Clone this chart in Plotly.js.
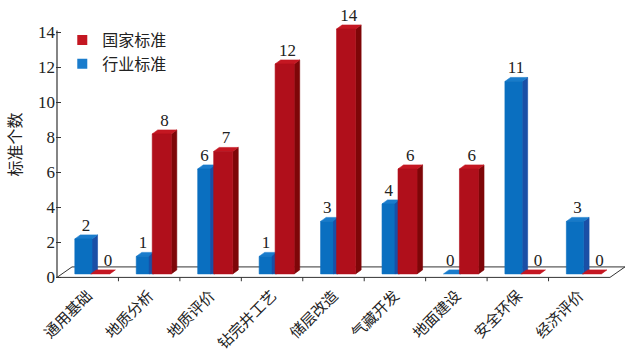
<!DOCTYPE html>
<html>
<head>
<meta charset="utf-8">
<script src="https://cdn.plot.ly/plotly-3.0.1.min.js"></script>
<style>html,body{margin:0;padding:0;background:#fff;}#chart{width:631px;height:360px;}</style>
</head>
<body>
<div id="chart"></div>
<script>
// ---- data ----
const categories = ['通用基础','地质分析','地质评价','钻完井工艺','储层改造','气藏开发','地面建设','安全环保','经济评价'];
const industryStd = [2, 1, 6, 1, 3, 4, 0, 11, 3];    // 行业标准 (blue)
const nationalStd = [0, 8, 7, 12, 14, 6, 6, 0, 0];   // 国家标准 (red)
const yTickVals = [0, 2, 4, 6, 8, 10, 12, 14];
const seriesNames = ['国家标准', '行业标准'];

// ---- style / pseudo-3D geometry (in axis units) ----
const BASE = 0.2, DX = 0.09, DY = 0.23;
const BLUE_OFF = [-0.21, 0.07], RED_OFF = [0.05, 0.36];
const COL = {
  blueFront: '#0a6fc0', blueTop: '#1a7ccc', blueSide: '#1a4fa6',
  redFront: '#b00f1b', redTop: '#c41722', redSide: '#7e0608'
};
const CJK = '"Noto Sans CJK SC", "Noto Sans", sans-serif';
const SERIF = '"Liberation Serif", "DejaVu Serif", serif';

function faces(vals, off) {
  const f = {x: [], y: []}, t = {x: [], y: []}, s = {x: [], y: []};
  vals.forEach((v, i) => {
    const x0 = i + off[0], x1 = i + off[1], b = BASE, top = v + BASE;
    if (v > 0) {
      f.x.push(x0, x1, x1, x0, x0, null); f.y.push(b, b, top, top, b, null);
      s.x.push(x1, x1 + DX, x1 + DX, x1, x1, null); s.y.push(b, b + DY, top + DY, top, b, null);
    }
    t.x.push(x0, x1, x1 + DX, x0 + DX, x0, null); t.y.push(top, top, top + DY, top + DY, top, null);
  });
  return {f, t, s};
}
function poly(p, color) {
  return {type: 'scatter', mode: 'lines', x: p.x, y: p.y, fill: 'toself', fillcolor: color,
    line: {color: color, width: 0.6}, hoverinfo: 'skip', showlegend: false};
}

const blue = faces(industryStd, BLUE_OFF);
const red = faces(nationalStd, RED_OFF);

// dark strip where the blue side shows next to a red bar
const strip = {x: [], y: []};
industryStd.forEach((v, i) => {
  if (v > 0 && nationalStd[i] > 0) {
    const x0 = i + 0.0, x1 = i + RED_OFF[0] + 0.005, top = v + BASE;
    strip.x.push(x0, x1, x1, x0, x0, null);
    strip.y.push(BASE, BASE + DY * 0.4, top + DY * 0.7, top, BASE, null);
  }
});

// floor (pseudo-3D base plane)
const n = categories.length;
const xL = -0.5, xR = n - 0.5, FDX = 0.244, FDY = 0.6;
const floor = {
  type: 'scatter', mode: 'lines', hoverinfo: 'skip', showlegend: false,
  x: [xL, xR, xR + FDX, xL + FDX, xL, null],
  y: [0, 0, FDY, FDY, 0, null],
  line: {color: '#333', width: 1}
};
const tickX = [], tickY = [];
for (let k = 1; k < n; k++) { tickX.push(xL + k, xL + k, null); tickY.push(0, -0.22, null); }
const floorTicks = {type: 'scatter', mode: 'lines', x: tickX, y: tickY, hoverinfo: 'skip',
  showlegend: false, line: {color: '#333', width: 1}};
const yAxisLine = {type: 'scatter', mode: 'lines', x: [xL, xL], y: [0, 14.12], hoverinfo: 'skip',
  showlegend: false, line: {color: '#333', width: 1.2}};

// data labels (centred over the visible part of each bar)
const idx = categories.map((_, i) => i);
const blueLbl = {type: 'scatter', mode: 'text', hoverinfo: 'skip', showlegend: false,
  x: idx.map(i => i + (nationalStd[i] > 0 ? -0.1 : -0.03)),
  y: industryStd.map(v => v + BASE + DY),
  text: industryStd.map(String), textposition: 'top center',
  textfont: {family: SERIF, size: 17, color: '#222'}, cliponaxis: false};
const redLbl = {type: 'scatter', mode: 'text', hoverinfo: 'skip', showlegend: false,
  x: idx.map(i => i + (nationalStd[i] > 0 ? 0.25 : 0.33)),
  y: nationalStd.map(v => v + BASE + DY),
  text: nationalStd.map(String), textposition: 'top center',
  textfont: {family: SERIF, size: 17, color: '#222'}, cliponaxis: false};

// legend proxies
const legRed = {type: 'scatter', mode: 'markers', x: [null], y: [null], name: seriesNames[0],
  marker: {symbol: 'square', size: 10, color: COL.redTop}};
const legBlue = {type: 'scatter', mode: 'markers', x: [null], y: [null], name: seriesNames[1],
  marker: {symbol: 'square', size: 10, color: COL.blueTop}};

const data = [
  floor, floorTicks, yAxisLine,
  poly(blue.s, COL.blueSide), poly(blue.t, COL.blueTop), poly(blue.f, COL.blueFront), poly(strip, COL.blueSide),
  poly(red.s, COL.redSide), poly(red.t, COL.redTop), poly(red.f, COL.redFront),
  blueLbl, redLbl, legRed, legBlue
];

const M = {l: 56, r: 4, t: 14.5, b: 77.4};
const PH = 360 - M.t - M.b;
const layout = {
  width: 631, height: 360, margin: M,
  paper_bgcolor: '#fff', plot_bgcolor: '#fff',
  showlegend: true,
  legend: {x: 0.011, y: (360 - M.b - 22.5) / PH, xanchor: 'left', yanchor: 'top', bgcolor: 'rgba(0,0,0,0)',
    font: {family: CJK, size: 16, color: '#222'}, itemwidth: 30, tracegroupgap: 0},
  xaxis: {range: [-0.5163, 8.777], tickvals: idx, ticktext: categories, tickangle: -45,
    ticks: '', showgrid: false, zeroline: false, showline: false, fixedrange: true,
    tickfont: {family: CJK, size: 15, color: '#222'}},
  yaxis: {range: [-0.32, 15.0], tickvals: yTickVals, ticktext: yTickVals.map(String),
    ticks: 'inside', ticklen: 5, tickwidth: 1.2, tickcolor: '#333',
    showgrid: false, zeroline: false, showline: false, fixedrange: true,
    tickfont: {family: SERIF, size: 17, color: '#222'}},
  annotations: [{text: '标准个数', xref: 'paper', yref: 'paper',
    x: (14 - M.l) / (631 - M.l - M.r), y: (360 - M.b - 144) / PH,
    xanchor: 'center', yanchor: 'middle', textangle: -90, showarrow: false,
    font: {family: CJK, size: 16, color: '#222'}}]
};

Plotly.newPlot('chart', data, layout, {displayModeBar: false, staticPlot: true});
</script>
</body>
</html>
